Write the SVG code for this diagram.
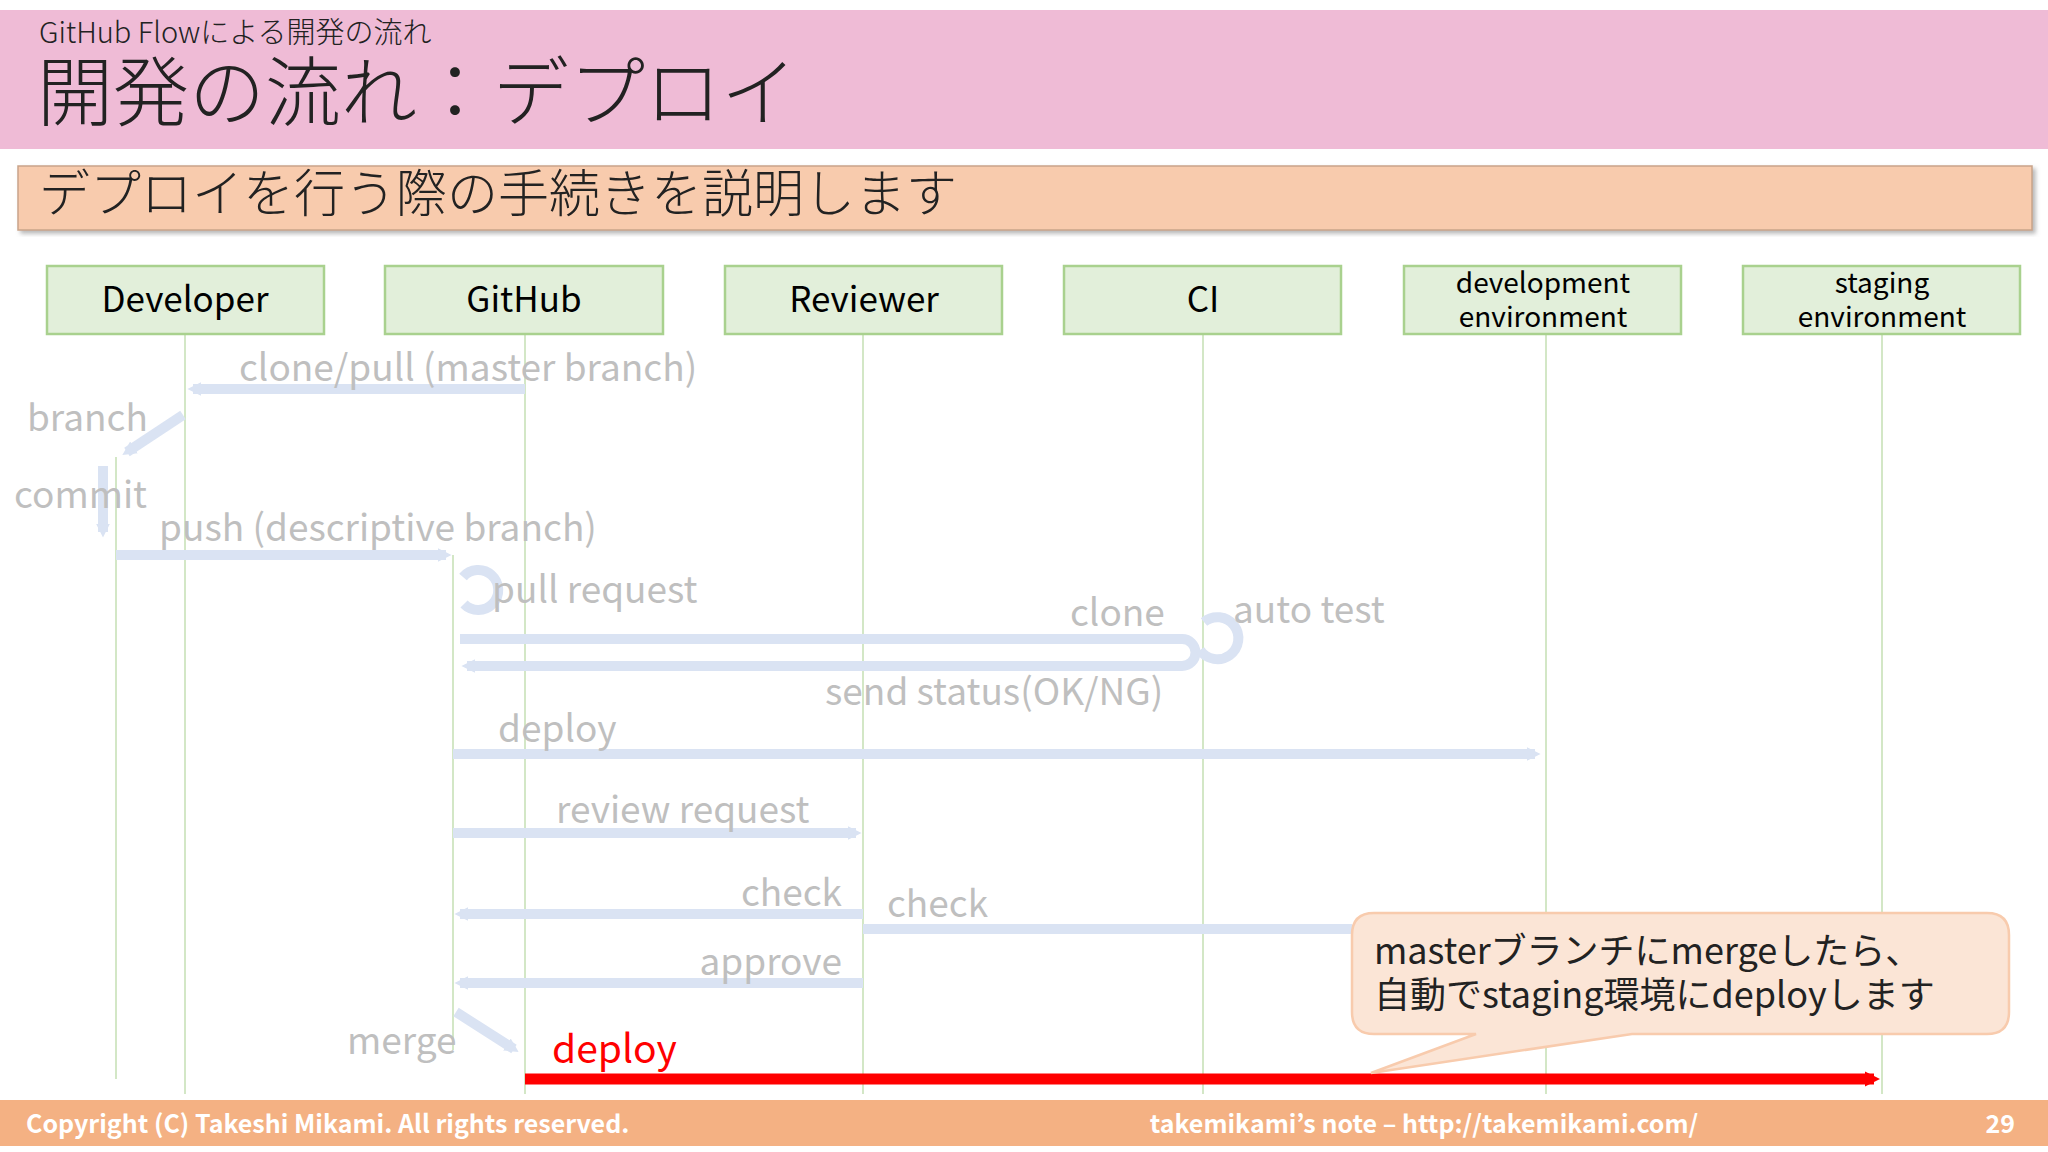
<svg xmlns="http://www.w3.org/2000/svg" width="2048" height="1152" viewBox="0 0 2048 1152">
<defs>
<style>
text{font-family:"Noto Sans CJK JP","Noto Sans",sans-serif}
.box{fill:#e2efda;stroke:#a9d18e;stroke-width:2.5}
.bl{font-size:35px;fill:#000;text-anchor:middle}
.bl2{font-size:28px;fill:#000;text-anchor:middle}
.life{stroke:#c5e0b4;stroke-width:1.5;fill:none}
.ga{stroke:#dae3f3;stroke-width:10;fill:none}
.gl{font-size:37px;fill:#bfbfbf}
.ft{font-size:25px;fill:#fff;font-weight:bold}
</style>
<marker id="ah" viewBox="0 0 10 10" refX="6" refY="5" markerWidth="1.4" markerHeight="1.8" orient="auto"><path d="M0,0L10,5L0,10z" fill="#dae3f3"/></marker>
<marker id="rh" viewBox="0 0 10 10" refX="6" refY="5" markerWidth="1.4" markerHeight="1.8" orient="auto"><path d="M0,0L10,5L0,10z" fill="#ff0000"/></marker>
<filter id="sh"><feDropShadow dx="3" dy="3" stdDeviation="2" flood-color="#888" flood-opacity="0.6"/></filter>
</defs>
<rect width="2048" height="1152" fill="#fff"/>
<g id="header">
<rect x="0" y="10" width="2048" height="139" fill="#efbbd6"/>
<text x="39" y="43" font-size="29" font-weight="300" fill="#222">GitHub Flowによる開発の流れ</text>
<text x="37" y="120" font-size="76" font-weight="300" fill="#222">開発の流れ：デプロイ</text>
</g>
<g id="subtitle">
<rect x="18" y="166" width="2014" height="64" fill="#f8cbad" stroke="#c9a48a" stroke-width="1.5" filter="url(#sh)"/>
<text x="39" y="212" font-size="51" font-weight="300" fill="#222">デプロイを行う際の手続きを説明します</text>
</g>
<g id="lifelines">
<path class="life" d="M185,334V1094M525,334V1094M863,334V1094M1203,334V1094M1546,334V1094M1882,334V1094M116,457V1079M453,555V1050"/>
</g>
<g id="n-developer"><rect class="box" x="47" y="266" width="277" height="68"/><text class="bl" x="185" y="312">Developer</text></g>
<g id="n-github"><rect class="box" x="385" y="266" width="278" height="68"/><text class="bl" x="524" y="312">GitHub</text></g>
<g id="n-reviewer"><rect class="box" x="725" y="266" width="277" height="68"/><text class="bl" x="864" y="312">Reviewer</text></g>
<g id="n-ci"><rect class="box" x="1064" y="266" width="277" height="68"/><text class="bl" x="1203" y="312">CI</text></g>
<g id="n-dev"><rect class="box" x="1404" y="266" width="277" height="68"/><text class="bl2" x="1543" y="293">development</text><text class="bl2" x="1543" y="327">environment</text></g>
<g id="n-stg"><rect class="box" x="1743" y="266" width="277" height="68"/><text class="bl2" x="1882" y="293">staging</text><text class="bl2" x="1882" y="327">environment</text></g>
<g id="connectors">
<path class="ga" d="M525,389H193" marker-end="url(#ah)"/>
<path class="ga" d="M183,415L127,452" marker-end="url(#ah)"/>
<path class="ga" d="M103,466V532" marker-end="url(#ah)"/>
<path class="ga" d="M116,555H446" marker-end="url(#ah)"/>
<path class="ga" d="M464,604A20,20 0 1,0 463,577"/>
<path class="ga" d="M460,639H1182A13.5,13.5 0 0,1 1182,666H467" marker-end="url(#ah)"/>
<path class="ga" d="M1200,650A21,21 0 1,0 1204,622"/>
<path class="ga" d="M453,754H1535" marker-end="url(#ah)"/>
<path class="ga" d="M453,833H856" marker-end="url(#ah)"/>
<path class="ga" d="M1352,929H863M863,914H460" marker-end="url(#ah)"/>
<path class="ga" d="M863,983H460" marker-end="url(#ah)"/>
<path class="ga" d="M456,1012L514,1049" marker-end="url(#ah)"/>
<path d="M525,1079H1874" stroke="#ff0000" stroke-width="11" marker-end="url(#rh)"/>
<text class="gl" x="239" y="381">clone/pull (master branch)</text>
<text class="gl" x="27" y="431">branch</text>
<text class="gl" x="14" y="508">commit</text>
<text class="gl" x="159" y="541">push (descriptive branch)</text>
<text class="gl" x="492" y="603">pull request</text>
<text class="gl" x="1070" y="626">clone</text>
<text class="gl" x="1233" y="623">auto test</text>
<text class="gl" x="825" y="705">send status(OK/NG)</text>
<text class="gl" x="498" y="742">deploy</text>
<text class="gl" x="556" y="823">review request</text>
<text class="gl" x="842" y="906" text-anchor="end">check</text>
<text class="gl" x="887" y="917">check</text>
<text class="gl" x="842" y="975" text-anchor="end">approve</text>
<text class="gl" x="347" y="1054">merge</text>
<text x="552" y="1063" font-size="39" fill="#ff0000">deploy</text>
</g>
<g id="callout">
<path d="M1374,913H1987Q2009,913 2009,935V1012Q2009,1034 1987,1034H1632L1371,1073L1476,1034H1374Q1352,1034 1352,1012V935Q1352,913 1374,913Z" fill="#fbe5d6" stroke="#f8cbad" stroke-width="2.5"/>
<text x="1374" y="964" font-size="36" fill="#222">masterブランチにmergeしたら、</text>
<text x="1374" y="1008" font-size="36" fill="#222">自動でstaging環境にdeployします</text>
</g>
<g id="footer">
<rect x="0" y="1100" width="2048" height="46" fill="#f4b183"/>
<text class="ft" x="26" y="1133">Copyright (C) Takeshi Mikami. All rights reserved.</text>
<text class="ft" x="1424" y="1133" text-anchor="middle">takemikami’s note – http://takemikami.com/</text>
<text class="ft" x="2015" y="1133" text-anchor="end">29</text>
</g>
</svg>
